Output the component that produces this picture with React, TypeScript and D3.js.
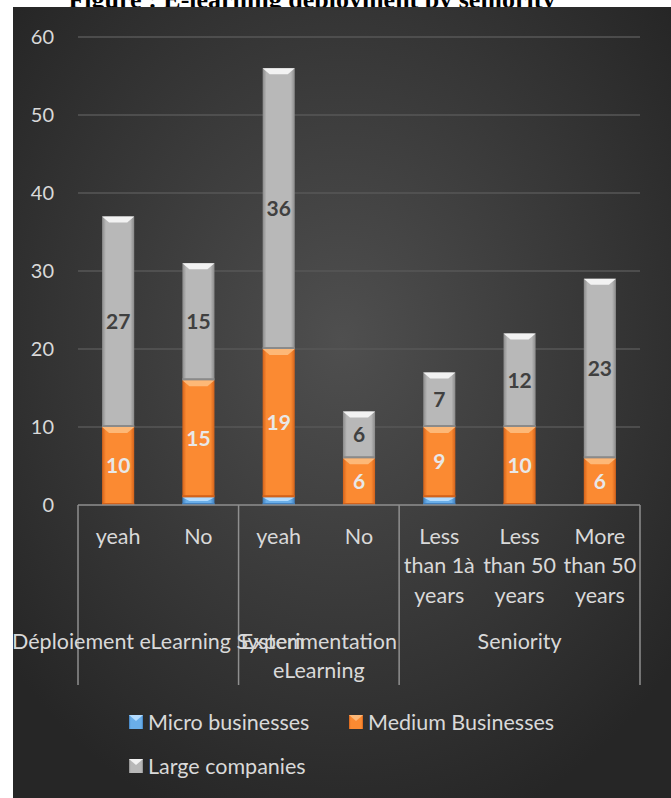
import React from "react";
import * as d3 from "d3";

const categories = ["yeah", "No", "yeah", "No", "Less than 1à years", "Less than 50 years", "More than 50 years"];
const groups = ["Déploiement eLearning System", "Experimentation\neLearning", "Seniority"];
const groupSizes = [2, 2, 3];
const seriesNames = ["Micro businesses", "Medium Businesses", "Large companies"];
const micro = [0, 1, 1, 0, 1, 0, 0];
const medium = [10, 15, 19, 6, 9, 10, 6];
const large = [27, 15, 36, 6, 7, 12, 23];
const yTicks = [0, 10, 20, 30, 40, 50, 60];
const title = "Figure : E-learning deployment by seniority";

const W = 671;
const H = 798;
const FONT = "Lato, 'Open Sans', sans-serif";
const TXT = 21.5;

const palette = [
  { edge: "#3f7fbf", mid: "#6aaee8", top: "#b3dcff", label: "#e6e6e6" },
  { edge: "#d3621a", mid: "#fb8a32", top: "#fdb877", label: "#e8e8e8" },
  { edge: "#8a8a8a", mid: "#b8b8b8", top: "#f2f2f2", label: "#404040" },
];

function wrap(s: string, maxChars: number): string[] {
  const words = s.split(" ");
  const lines: string[] = [];
  let cur = "";
  for (const w of words) {
    const t = cur ? cur + " " + w : w;
    if (t.length > maxChars && cur) {
      lines.push(cur);
      cur = w;
    } else cur = t;
  }
  if (cur) lines.push(cur);
  return lines;
}

export default function App() {
  const x = d3
    .scaleBand<number>()
    .domain(d3.range(categories.length))
    .range([78, 640])
    .paddingInner(0.6)
    .paddingOuter(0.3);
  const y = d3.scaleLinear().domain([0, 60]).range([505, 37]);
  const step = x.step();
  const x0 = 78;

  const stack = d3
    .stack<number>()
    .keys(["0", "1", "2"])
    .value((i, k) => [micro, medium, large][+k][i]);
  const stacked = stack(d3.range(categories.length));

  const boundaries: number[] = [0];
  groupSizes.forEach((g, i) => boundaries.push(boundaries[i] + g));

  return (
    <svg width={W} height={H} style={{ position: "absolute", left: 0, top: 0 }}>
      <defs>
        <radialGradient id="bg" cx="50%" cy="42%" r="65%">
          <stop offset="0%" stopColor="#4f4f4f" />
          <stop offset="100%" stopColor="#262626" />
        </radialGradient>
        {palette.map((p, i) => (
          <linearGradient key={i} id={"bar" + i} x1="0" x2="1" y1="0" y2="0">
            <stop offset="0%" stopColor={p.edge} />
            <stop offset="12%" stopColor={p.mid} />
            <stop offset="88%" stopColor={p.mid} />
            <stop offset="100%" stopColor={p.edge} />
          </linearGradient>
        ))}
        <clipPath id="clip">
          <rect x={13} y={7} width={W - 13} height={H - 7} />
        </clipPath>
      </defs>
      <rect x={0} y={0} width={W} height={H} fill="#ffffff" />
      <text
        x={312}
        y={8}
        textAnchor="middle"
        fontFamily="'Liberation Serif', 'Times New Roman', serif"
        fontWeight="bold"
        fontSize={26}
        fill="#000"
      >
        {title}
      </text>
      <rect x={13} y={7} width={W - 13} height={H - 7} fill="url(#bg)" />
      <g clipPath="url(#clip)" fontFamily={FONT}>
        {yTicks.map((t) => (
          <g key={t}>
            {t > 0 && <line x1={78} x2={640} y1={y(t)} y2={y(t)} stroke="#575757" strokeWidth={1.3} />}
            <text x={54} y={y(t)} dy="0.35em" textAnchor="end" fontSize={20} fill="#d9d9d9">
              {t}
            </text>
          </g>
        ))}
        {stacked.map((layer, si) =>
          layer.map((d, i) => {
            const v = d[1] - d[0];
            if (v <= 0) return null;
            const bx = x(i)!;
            const bw = x.bandwidth();
            const top = y(d[1]);
            const bot = y(d[0]);
            const h = bot - top;
            const bev = Math.min(6, h / 2);
            const p = palette[si];
            return (
              <g key={si + "-" + i}>
                <rect x={bx} y={top} width={bw} height={h} fill={`url(#bar${si})`} />
                <polygon
                  points={`${bx},${top} ${bx + bw},${top} ${bx + bw - 7},${top + bev} ${bx + 7},${top + bev}`}
                  fill={p.top}
                />
                <rect x={bx} y={bot - Math.min(2, h / 4)} width={bw} height={Math.min(2, h / 4)} fill={p.edge} />
              </g>
            );
          })
        )}
        {stacked.map((layer, si) =>
          si === 0
            ? null
            : layer.map((d, i) => {
                const v = d[1] - d[0];
                if (v <= 0) return null;
                return (
                  <text
                    key={"l" + si + "-" + i}
                    x={x(i)! + x.bandwidth() / 2}
                    y={y((d[0] + d[1]) / 2)}
                    dy="0.35em"
                    textAnchor="middle"
                    fontWeight="bold"
                    fontSize={21}
                    fill={palette[si].label}
                  >
                    {v}
                  </text>
                );
              })
        )}
        <line x1={78} x2={640} y1={505} y2={505} stroke="#8f8f8f" strokeWidth={1.5} />
        {boundaries.map((b) => (
          <line key={"b" + b} x1={x0 + b * step} x2={x0 + b * step} y1={505} y2={685} stroke="#8f8f8f" strokeWidth={1.5} />
        ))}
        {categories.map((c, i) =>
          wrap(c, 8).map((ln, li) => (
            <text
              key={"c" + i + li}
              x={x(i)! + x.bandwidth() / 2}
              y={536 + li * 29.5}
              dy="0.35em"
              textAnchor="middle"
              fontSize={TXT}
              fill="#d9d9d9"
            >
              {ln}
            </text>
          ))
        )}
        {groups.map((g, gi) => {
          const cx = x0 + ((boundaries[gi] + boundaries[gi + 1]) / 2) * step;
          return g.split("\n").map((ln, li) => (
            <text
              key={"g" + gi + li}
              x={cx}
              y={641 + li * 29.5}
              dy="0.35em"
              textAnchor="middle"
              fontSize={TXT}
              fill="#d9d9d9"
            >
              {ln}
            </text>
          ));
        })}
        {seriesNames.map((s, si) => {
          const lx = si === 1 ? 349 : 129;
          const ly = si === 2 ? 759 : 715;
          const p = palette[si];
          return (
            <g key={"leg" + si}>
              <rect x={lx} y={ly} width={14} height={14} fill={`url(#bar${si})`} />
              <polygon points={`${lx},${ly} ${lx + 14},${ly} ${lx + 7},${ly + 6}`} fill={p.top} />
              <text x={lx + 19} y={ly + 7} dy="0.35em" fontSize={TXT} fill="#d9d9d9">
                {s}
              </text>
            </g>
          );
        })}
      </g>
    </svg>
  );
}
